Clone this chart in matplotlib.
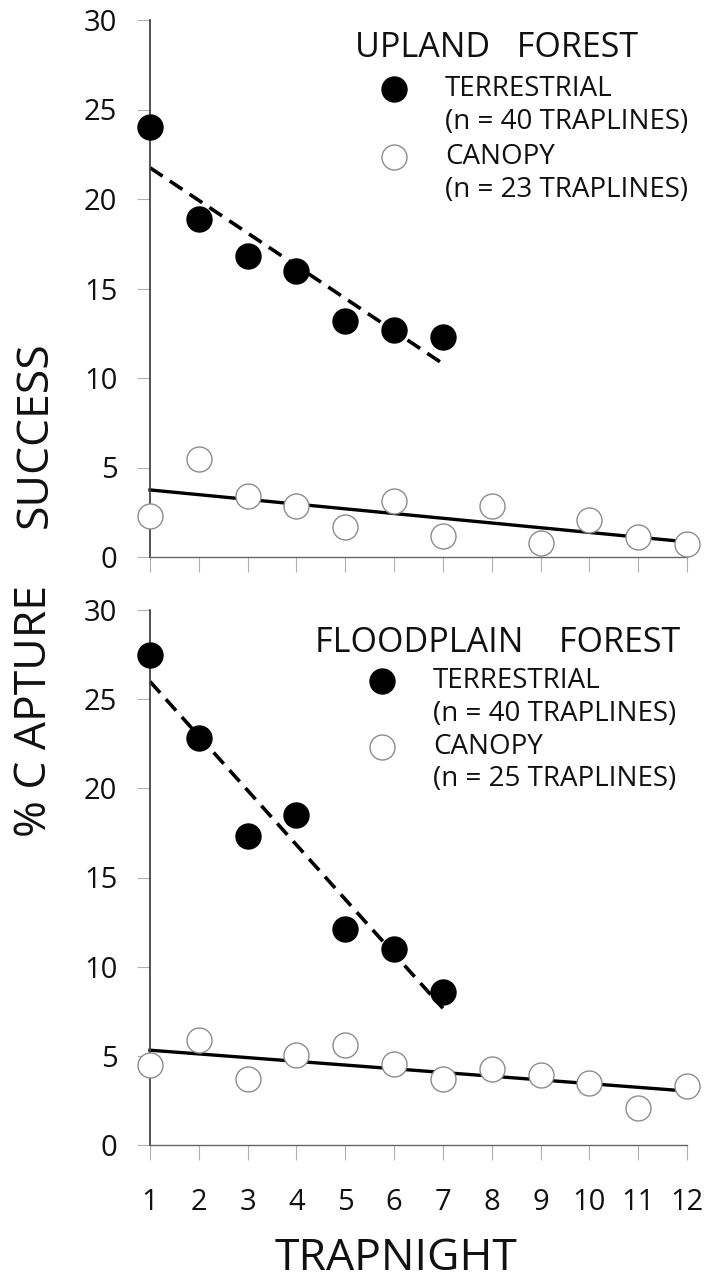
import numpy as np
import matplotlib
matplotlib.use('Agg')
import matplotlib.pyplot as plt
from matplotlib.lines import Line2D

# Dane (% schwytań w kolejnych nocach pułapkowania)
trapnight = np.arange(1, 13)
terr_nights = np.arange(1, 8)

upland_terrestrial = [24.0, 18.9, 16.8, 16.0, 13.2, 12.7, 12.3]
upland_canopy = [2.3, 5.5, 3.4, 2.85, 1.7, 3.15, 1.15, 2.85, 0.8, 2.05, 1.1, 0.7]
flood_terrestrial = [27.5, 22.8, 17.3, 18.5, 12.1, 11.0, 8.6]
flood_canopy = [4.5, 5.9, 3.7, 5.05, 5.6, 4.55, 3.7, 4.25, 3.95, 3.45, 2.1, 3.3]

y_ticks = [0, 5, 10, 15, 20, 25, 30]

plt.rcParams['font.family'] = ['Open Sans', 'DejaVu Sans']
TXT = '#111111'

W, H = 709, 1284
fig = plt.figure(figsize=(W / 100, H / 100), dpi=100)


def fx(x):
    return x / W


def fy(y):
    return 1 - y / H


ax_top = fig.add_axes([fx(150), fy(557), fx(687) - fx(150), fy(20) - fy(557)])
ax_bot = fig.add_axes([fx(150), fy(1145), fx(687) - fx(150), fy(610) - fy(1145)])


def draw_panel(ax, terr, canopy):
    # linie regresji
    b = np.polyfit(terr_nights, terr, 1)
    ax.plot(terr_nights, np.polyval(b, terr_nights), color='black', lw=2.6,
            ls=(0, (4.2, 2.4)), zorder=2, clip_on=False)
    b2 = np.polyfit(trapnight, canopy, 1)
    ax.plot(trapnight, np.polyval(b2, trapnight), color='black', lw=2.4,
            zorder=2, clip_on=False)
    # punkty
    ax.plot(trapnight, canopy, 'o', ms=18, mfc='white', mec='#8c8c8c', mew=1.0,
            ls='none', zorder=3, clip_on=False)
    ax.plot(terr_nights, terr, 'o', ms=18, mfc='black', mec='black',
            ls='none', zorder=4, clip_on=False)

    ax.set_xlim(1, 12)
    ax.set_ylim(0, 30)
    ax.spines[['top', 'right']].set_visible(False)
    ax.spines['left'].set_color('#444444')
    ax.spines['left'].set_linewidth(1.3)
    ax.spines['bottom'].set_color('#666666')
    ax.spines['bottom'].set_linewidth(1.0)
    ax.set_xticks(trapnight)
    ax.set_yticks(y_ticks)
    ax.tick_params(axis='y', length=9.5, width=0.8, color='#b0b0b0', pad=14,
                   labelsize=21, labelcolor=TXT)
    ax.tick_params(axis='x', length=11, width=0.8, color='#b0b0b0', pad=20,
                   labelsize=21, labelcolor=TXT)


def draw_legend(title, title_x, title_y, mk_x, txt_x, rows, n_canopy):
    fig.text(fx(title_x), fy(title_y), title, fontsize=24.5, color=TXT,
             ha='left', va='center')
    y1, y2, y3, y4 = rows
    fig.add_artist(Line2D([fx(mk_x)], [fy(y1)], marker='o', ms=18, mfc='black',
                          mec='black', ls='none', transform=fig.transFigure))
    fig.add_artist(Line2D([fx(mk_x)], [fy(y3)], marker='o', ms=18, mfc='white',
                          mec='#8c8c8c', mew=1.0, ls='none',
                          transform=fig.transFigure))
    labels = ['TERRESTRIAL', '(n = 40 TRAPLINES)', 'CANOPY',
              '(n = %d TRAPLINES)' % n_canopy]
    for lab, yy in zip(labels, rows):
        fig.text(fx(txt_x), fy(yy), lab, fontsize=20, color=TXT,
                 ha='left', va='center')


draw_panel(ax_top, upland_terrestrial, upland_canopy)
draw_panel(ax_bot, flood_terrestrial, flood_canopy)
ax_top.tick_params(labelbottom=False)

draw_legend('UPLAND   FOREST', 355, 48, 394, 445, (89, 122, 157, 190), 23)
draw_legend('FLOODPLAIN    FOREST', 315, 643, 382, 433, (681, 714, 747, 779), 25)

fig.text(fx(35), fy(435), 'SUCCESS', rotation=90, fontsize=32, color=TXT,
         ha='center', va='center')
fig.text(fx(35), fy(711), '% C APTURE', rotation=90, fontsize=32, color=TXT,
         ha='center', va='center')
fig.text(fx(396), fy(1259), 'TRAPNIGHT', fontsize=32, color=TXT,
         ha='center', va='center')

fig.savefig('out.png', dpi=100)
